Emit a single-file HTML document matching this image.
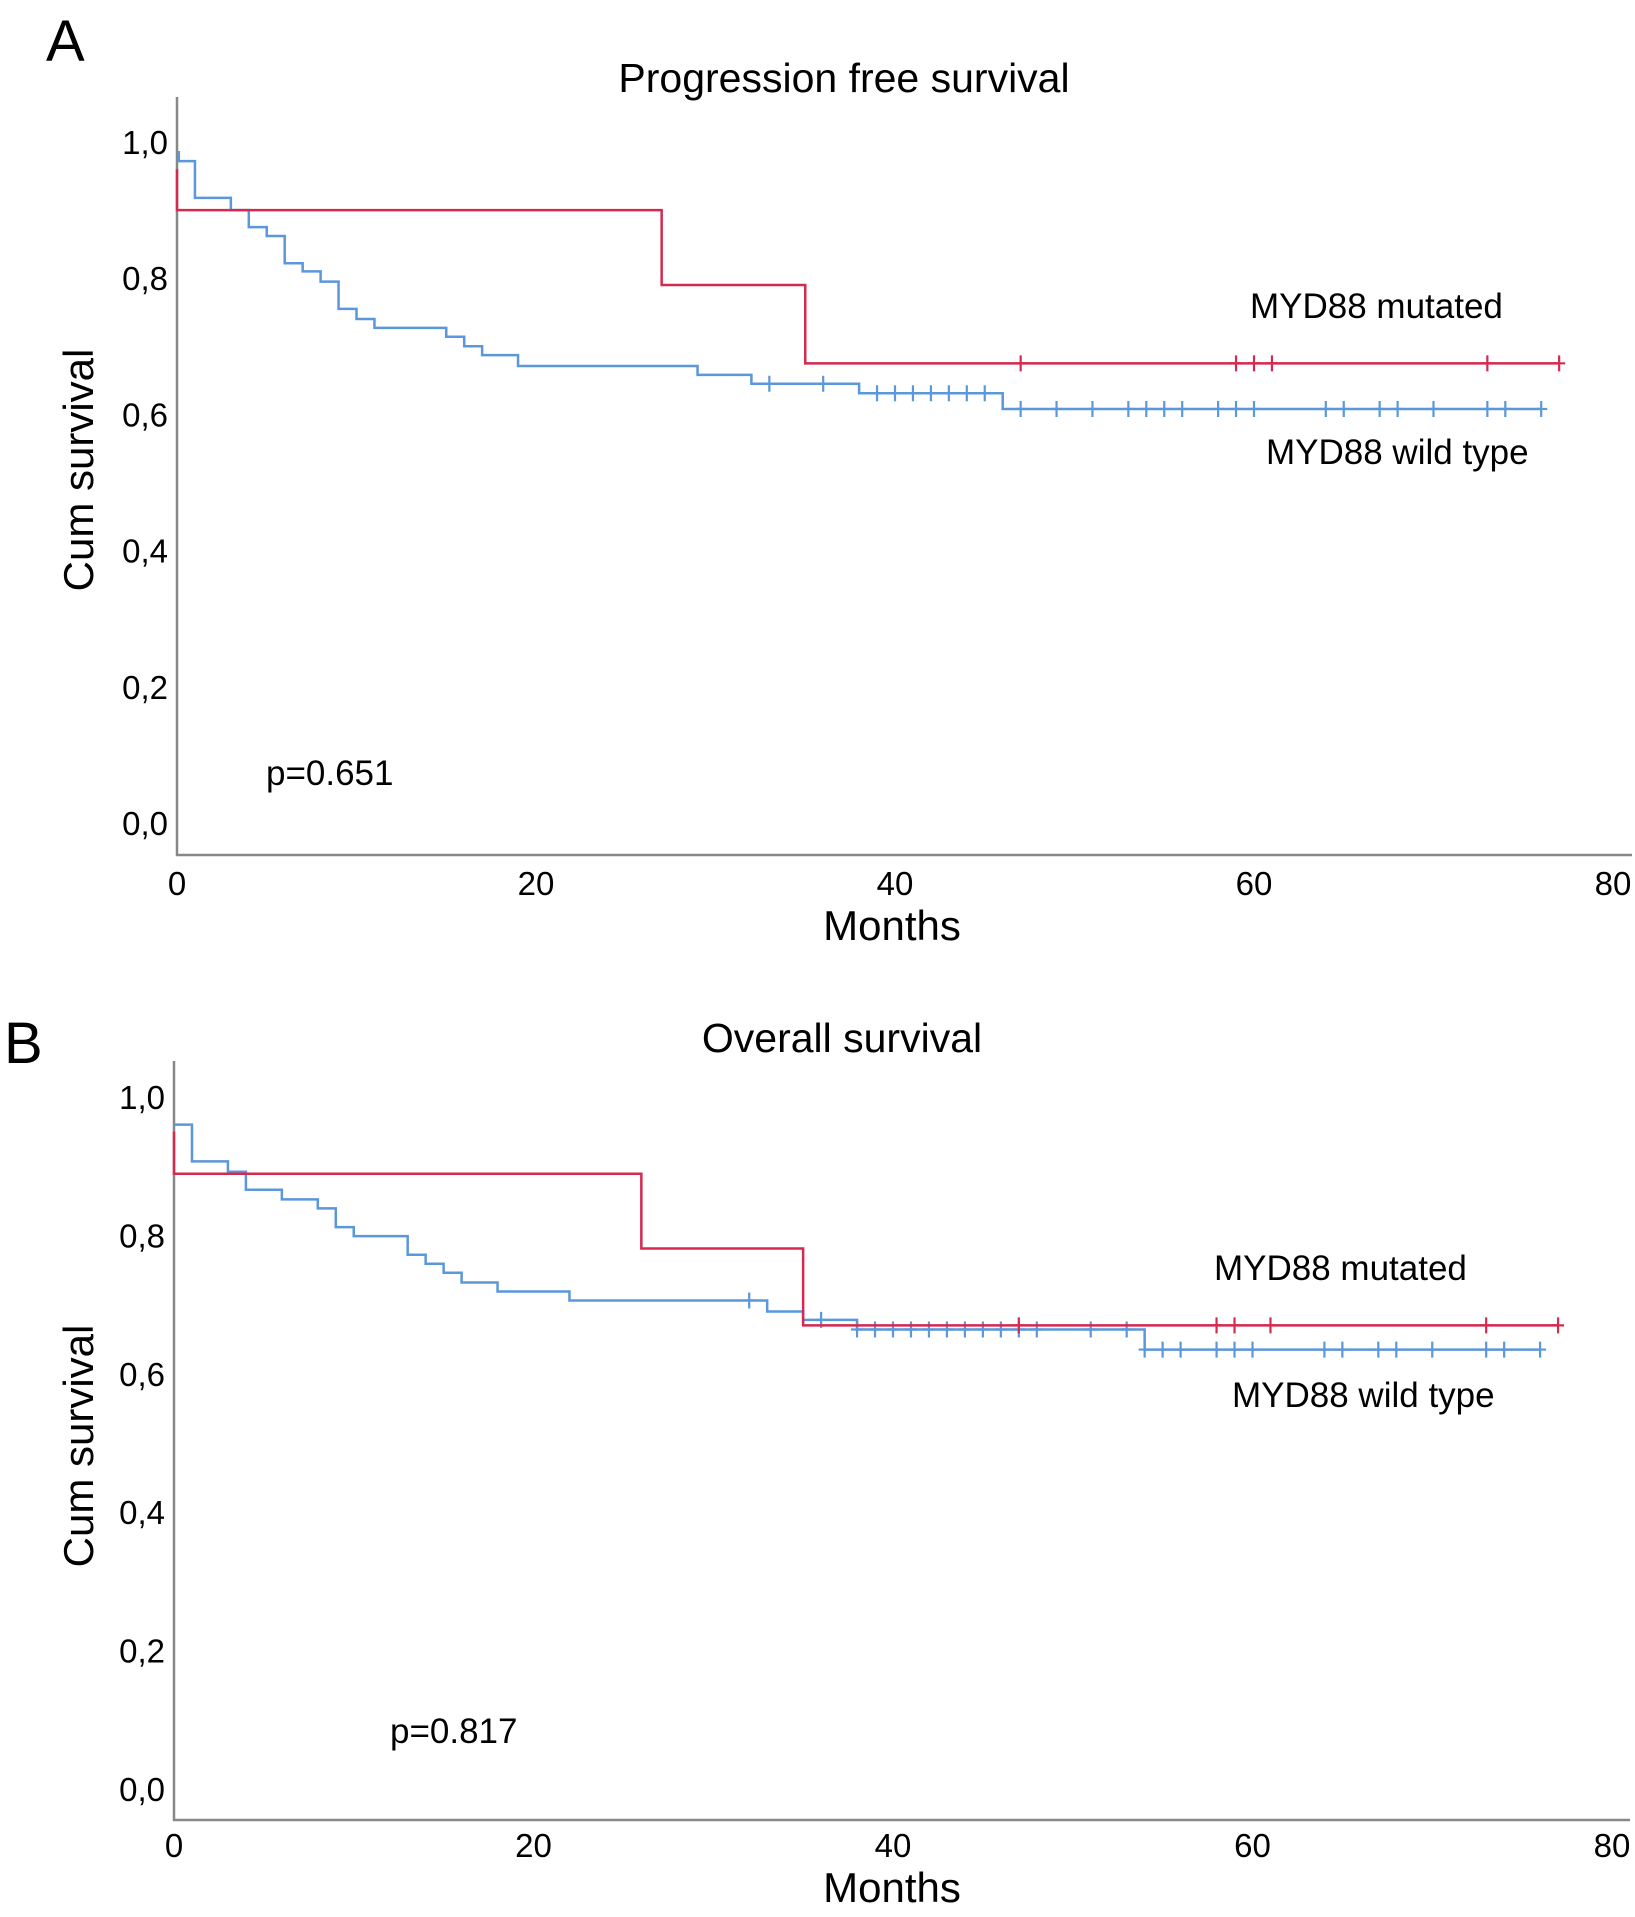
<!DOCTYPE html>
<html><head><meta charset="utf-8">
<style>
html,body{margin:0;padding:0;background:#fff;}
svg{display:block;font-family:"Liberation Sans",sans-serif;}
</style></head>
<body>
<svg id="fig" width="1635" height="1917" viewBox="0 0 1635 1917" xmlns="http://www.w3.org/2000/svg">
<text x="46" y="61" font-size="58">A</text>
<text x="844" y="92" font-size="41" text-anchor="middle">Progression free survival</text>
<text x="1250" y="318" font-size="35">MYD88 mutated</text>
<text x="1266" y="464" font-size="35">MYD88 wild type</text>
<text x="266" y="785" font-size="35">p=0.651</text>
<text x="892" y="940" font-size="42" text-anchor="middle">Months</text>
<text transform="translate(93,470) rotate(-90)" font-size="42" text-anchor="middle">Cum survival</text>

<text x="4" y="1063" font-size="58">B</text>
<text x="842" y="1052" font-size="41" text-anchor="middle">Overall survival</text>
<text x="1214" y="1280" font-size="35">MYD88 mutated</text>
<text x="1232" y="1407" font-size="35">MYD88 wild type</text>
<text x="390" y="1743" font-size="35">p=0.817</text>
<text x="892" y="1902" font-size="42" text-anchor="middle">Months</text>
<text transform="translate(93,1446) rotate(-90)" font-size="42" text-anchor="middle">Cum survival</text>
<g id="plots"></g>
</svg>
<script>
const xTicks = [0, 20, 40, 60, 80];
const yTicks = [0, 0.2, 0.4, 0.6, 0.8, 1.0];
const yTickLabels = ["0,0", "0,2", "0,4", "0,6", "0,8", "1,0"];

// Panel A: [month, survival after step]
const aRedSteps = [[0,0.96],[0,0.9],[27,0.79],[35,0.675]];
const aRedEnd = 77;
const aRedCensor = [47,59,60,61,73,77];
const aBlueSteps = [[0,0.985],[0.1,0.972],[1,0.918],[3,0.9],[4,0.875],[5,0.862],[6,0.822],[7,0.81],[8,0.795],[9,0.755],[10,0.74],[11,0.727],[15,0.714],[16,0.7],[17,0.687],[19,0.671],[29,0.658],[32,0.645],[38,0.631],[46,0.608]];
const aBlueEnd = 76;
const aBlueCensor = [33,36,39,40,41,42,43,44,45,47,49,51,53,54,55,56,58,59,60,64,65,67,68,70,73,74,76];

// Panel B
const bRedSteps = [[0,0.95],[0,0.889],[26,0.781],[35,0.67]];
const bRedEnd = 77;
const bRedCensor = [47,58,59,61,73,77];
const bBlueSteps = [[0,0.96],[1,0.907],[3,0.892],[4,0.866],[6,0.852],[8,0.839],[9,0.812],[10,0.799],[13,0.772],[14,0.759],[15,0.746],[16,0.732],[18,0.719],[22,0.706],[33,0.69],[35,0.678],[38,0.664],[54,0.635]];
const bBlueEnd = 76;
const bBlueCensor = [32,36,38,39,40,41,42,43,44,45,46,47,48,51,53,54,55,56,58,59,60,64,65,67,68,70,73,74,76];

const NS = "http://www.w3.org/2000/svg";
const root = document.getElementById("plots");
function mk(tag, attrs, parent){ const e=document.createElementNS(NS,tag); for(const k in attrs) e.setAttribute(k,attrs[k]); parent.appendChild(e); return e; }

function stepValue(steps, m){ let v=steps[0][1]; for(const s of steps){ if(s[0]<=m) v=s[1]; } return v; }

function drawPanel(id, P, redSteps, redEnd, redCensor, blueSteps, blueEnd, blueCensor){
  const xs = m => P.x0 + (m/80)*(P.x80-P.x0);
  const ys = v => P.y0 - v*(P.y0-P.y1);
  const g = mk("g",{},root);
  
  
  const ax = mk("path",{d:`M${P.x0},${P.axTop} V${P.axBot} H${P.axRight}`,fill:"none",stroke:"#888",'stroke-width':2.5},g);
  
  
  xTicks.forEach(t=>{
    const tx = mk("text",{x:xs(t),y:P.xLabY,'font-size':33,'text-anchor':'middle'},g);
    tx.textContent = t;
    
    
  });
  yTicks.forEach((t,i)=>{
    const tx = mk("text",{x:P.x0-9,y:ys(t)+12,'font-size':33,'text-anchor':'end'},g);
    tx.textContent = yTickLabels[i];
    
    
  });
  function series(steps,end,cens,color,name){
    let d = `M${xs(steps[0][0])},${ys(steps[0][1])}`;
    for(let i=1;i<steps.length;i++){ d += ` H${xs(steps[i][0])} V${ys(steps[i][1])}`; }
    d += ` H${xs(end)}`;
    const p = mk("path",{d:d,fill:"none",stroke:color,'stroke-width':2.5},g);
    
    
    cens.forEach(c=>{
      const cx=xs(c), cy=ys(stepValue(steps,c));
      const m = mk("path",{d:`M${cx},${cy-8} V${cy+8} M${cx-6},${cy} H${cx+6}`,stroke:color,'stroke-width':2.2},g);
      
      
    });
  }
  series(blueSteps,blueEnd,blueCensor,"#5b97db","wildtype-"+id);
  series(redSteps,redEnd,redCensor,"#d42a50","mutated-"+id);
}

drawPanel("a",{x0:177,x80:1613,y0:823,y1:142,axTop:97,axBot:855,axRight:1632,xLabY:895},
  aRedSteps,aRedEnd,aRedCensor,aBlueSteps,aBlueEnd,aBlueCensor);
drawPanel("b",{x0:174,x80:1612,y0:1789,y1:1097,axTop:1061,axBot:1820,axRight:1630,xLabY:1857},
  bRedSteps,bRedEnd,bRedCensor,bBlueSteps,bBlueEnd,bBlueCensor);
</script>
</body></html>
